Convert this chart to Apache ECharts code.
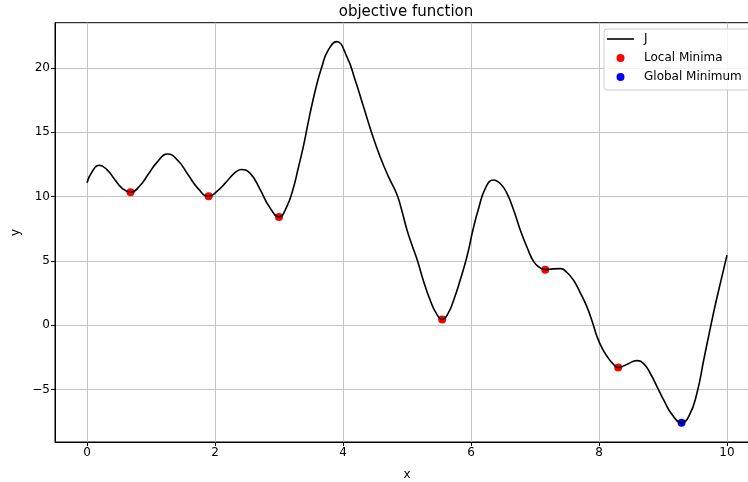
<!DOCTYPE html>
<html>
<head>
<meta charset="utf-8">
<script src="https://cdn.jsdelivr.net/npm/echarts@6/dist/echarts.min.js"></script>
<style>
  html, body { margin: 0; padding: 0; background: #ffffff; }
  #chart { width: 748px; height: 482px; }
</style>
</head>
<body>
<div id="chart"></div>
<script>
// ---- data ----
const curveX = [0.00, 0.08, 0.19, 0.31, 0.43, 0.55, 0.68, 0.82, 0.96, 1.10, 1.26, 1.42, 1.58, 1.74, 1.90, 2.03, 2.17, 2.30, 2.41, 2.55, 2.70, 2.85, 3.00, 3.12, 3.23, 3.30, 3.38, 3.45, 3.52, 3.60, 3.67, 3.76, 3.90, 4.06, 4.19, 4.32, 4.45, 4.58, 4.71, 4.84, 4.92, 5.00, 5.08, 5.16, 5.26, 5.36, 5.46, 5.55, 5.64, 5.73, 5.83, 5.94, 6.03, 6.12, 6.23, 6.35, 6.46, 6.56, 6.67, 6.77, 6.88, 6.98, 7.07, 7.16, 7.28, 7.40, 7.50, 7.60, 7.70, 7.81, 7.90, 7.97, 8.05, 8.13, 8.22, 8.30, 8.45, 8.59, 8.70, 8.80, 8.91, 9.01, 9.15, 9.29, 9.41, 9.53, 9.64, 9.74, 9.82, 9.90, 10.00];
const curveY = [11.08, 11.93, 12.43, 12.10, 11.35, 10.64, 10.33, 10.80, 11.75, 12.70, 13.31, 12.80, 11.70, 10.60, 10.02, 10.40, 11.10, 11.80, 12.10, 11.80, 10.60, 9.20, 8.42, 9.20, 10.77, 12.20, 13.88, 15.60, 17.25, 18.90, 20.09, 21.30, 22.04, 20.87, 19.06, 16.99, 14.92, 13.10, 11.55, 10.20, 8.90, 7.40, 6.20, 5.07, 3.40, 1.97, 0.90, 0.45, 0.90, 1.97, 3.50, 5.40, 7.40, 9.10, 10.70, 11.29, 11.00, 10.26, 8.90, 7.40, 6.00, 4.94, 4.50, 4.32, 4.38, 4.40, 4.10, 3.52, 2.60, 1.45, 0.20, -0.89, -1.80, -2.44, -3.00, -3.29, -3.00, -2.75, -3.00, -3.73, -4.80, -5.80, -7.00, -7.57, -7.00, -5.28, -2.60, -0.20, 1.65, 3.35, 5.45];
const localMinX = [0.68, 1.90, 3.00, 5.55, 7.16, 8.30];
const localMinY = [10.33, 10.02, 8.42, 0.45, 4.32, -3.29];
const globalMinX = [9.29];
const globalMinY = [-7.57];
const xTicks = [0, 2, 4, 6, 8, 10];
const yTicks = [-5, 0, 5, 10, 15, 20];

const zip = (a, b) => a.map((v, i) => [v, b[i]]);
const FONT = 'DejaVu Sans';
const fmt = v => String(v).replace('-', '\u2212');

const chart = echarts.init(document.getElementById('chart'), null, { renderer: 'canvas' });
chart.setOption({
  animation: false,
  backgroundColor: '#ffffff',
  title: {
    text: 'objective function',
    left: 401, top: 0, textAlign: 'center',
    textStyle: { fontFamily: FONT, fontSize: 15, fontWeight: 'normal', color: '#000' }
  },
  legend: {
    orient: 'vertical',
    left: 604, top: 29,
    padding: [3, 20, 6, 3],
    itemWidth: 27, itemHeight: 8, itemGap: 5,
    backgroundColor: 'rgba(255,255,255,0.8)',
    borderColor: '#cccccc', borderWidth: 1, borderRadius: 3,
    textStyle: { fontFamily: FONT, fontSize: 12, color: '#000', lineHeight: 14, padding: [0, 0, 0, 5] },
    data: [
      { name: 'J', icon: 'path://M0,0H27V1.6H0Z' },
      { name: 'Local Minima', icon: 'circle' },
      { name: 'Global Minimum', icon: 'circle' }
    ]
  },
  grid: {
    left: 55, right: -11, top: 22.7, bottom: 40,
    outerBoundsMode: 'none', containLabel: false,
    show: true, borderColor: '#000', borderWidth: 1, backgroundColor: 'transparent'
  },
  xAxis: {
    type: 'value', min: -0.5, max: 10.5,
    name: 'x', nameLocation: 'middle', nameGap: 27,
    nameTextStyle: { fontFamily: FONT, fontSize: 12, color: '#000' },
    axisLine: { show: true, onZero: false, lineStyle: { color: '#000', width: 1 } },
    axisTick: { show: true, inside: false, length: 4, customValues: xTicks, lineStyle: { color: '#000' } },
    axisLabel: { customValues: xTicks, margin: 5, fontFamily: FONT, fontSize: 12, color: '#000', formatter: fmt },
    splitLine: { show: true, lineStyle: { color: '#c4c4c4', width: 1 } }
  },
  yAxis: {
    type: 'value', min: -9.07, max: 23.51,
    name: 'y', nameLocation: 'middle', nameGap: 33, nameRotate: 90,
    nameTextStyle: { fontFamily: FONT, fontSize: 12, color: '#000' },
    axisLine: { show: true, onZero: false, lineStyle: { color: '#000', width: 1 } },
    axisTick: { show: true, inside: false, length: 4, customValues: yTicks, lineStyle: { color: '#000' } },
    axisLabel: { customValues: yTicks, margin: 5, fontFamily: FONT, fontSize: 12, color: '#000', formatter: fmt },
    splitLine: { show: true, lineStyle: { color: '#c4c4c4', width: 1 } }
  },
  series: [
    {
      name: 'J', type: 'line', data: zip(curveX, curveY),
      smooth: 0.5, showSymbol: false, symbol: 'none', z: 5,
      lineStyle: { color: '#000', width: 1.6 }, itemStyle: { color: '#000' }
    },
    {
      name: 'Local Minima', type: 'scatter', data: zip(localMinX, localMinY),
      symbol: 'circle', symbolSize: 8, z: 3, itemStyle: { color: '#ff0000', opacity: 1 }
    },
    {
      name: 'Global Minimum', type: 'scatter', data: zip(globalMinX, globalMinY),
      symbol: 'circle', symbolSize: 8, z: 3, itemStyle: { color: '#0000ff', opacity: 1 }
    }
  ]
});
</script>
</body>
</html>
